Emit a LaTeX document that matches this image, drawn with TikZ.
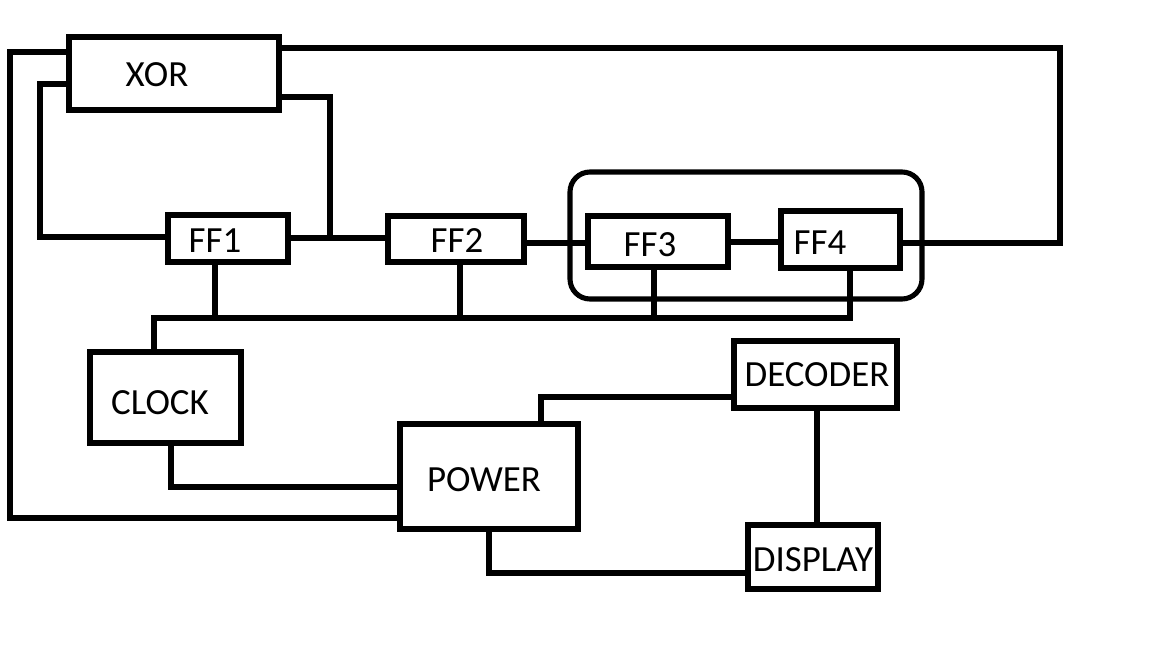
\documentclass[tikz,border=0pt]{standalone}
\usepackage{fontspec}
\setmainfont{Carlito}
\usetikzlibrary{fit}
\begin{document}
\begin{tikzpicture}[x=0.02cm,y=-0.02cm,
  lw/.style={line width=2.9pt, line join=miter},
  box/.style={draw, lw, rectangle, inner sep=0pt},
  group/.style={draw, lw, rectangle, rounded corners=0.4cm, inner sep=0pt},
  wire/.style={lw},
  lbl/.style={font=\fontsize{21}{25}\selectfont, inner sep=0pt, anchor=center}]
\useasboundingbox[fill=white] (0,0) rectangle (1152,648);
% boxes
\node[box, fit={(69,37) (279,110)}] (xor) {};
\node[box, fit={(168,215) (288,262)}] (ff1) {};
\node[box, fit={(388,216) (524,262)}] (ff2) {};
\node[group, fit={(570,172) (922,299)}] (grp) {};
\node[box, fit={(588,216) (728,267)}] (ff3) {};
\node[box, fit={(781,211) (900,268)}] (ff4) {};
\node[box, fit={(90,352) (241,443)}] (clock) {};
\node[box, fit={(400,424) (578,529)}] (power) {};
\node[box, fit={(734,341) (897,408)}] (decoder) {};
\node[box, fit={(748,525) (878,589)}] (display) {};
% labels
\node[lbl] (txor) at (157,75) {XOR};
\node[lbl] (tff1) at (215,241) {FF1};
\node[lbl] (tff2) at (457,241) {FF2};
\node[lbl] (tff3) at (650,245) {FF3};
\node[lbl] (tff4) at (820,243) {FF4};
\node[lbl] (tclock) at (160,403) {CLOCK};
\node[lbl] (tpower) at (484,480) {POWER};
\node[lbl] (tdecoder) at (817,375) {DECODER};
\node[lbl] (tdisplay) at (813,560) {DISPLAY};
% junction coordinates
\coordinate (j1) at (330,238);
% connectors
\draw[wire] (xor.west |- 0,52) -- (10,52) -- (10,518) -- (power.west |- 0,518);
\draw[wire] (xor.west |- 0,84) -- (40,84) -- (40,237) -- (ff1.west |- 0,237);
\draw[wire] (xor.east |- 0,48) -- (1060,48) -- (1060,243) -- (ff4.east |- 0,243);
\draw[wire] (xor.east |- 0,97) -- (330,97) -- (j1);
\draw[wire] (ff1.east |- 0,238) -- (ff2.west |- 0,238);
\draw[wire] (ff2.east |- 0,243) -- (ff3.west |- 0,243);
\draw[wire] (ff3.east |- 0,242) -- (ff4.west |- 0,242);
% clock bus
\draw[wire] (clock.north -| 154,0) -- (154,318) -- (850,318) -- (ff4.south -| 850,0);
\draw[wire] (ff1.south -| 215,0) -- (215,318);
\draw[wire] (ff2.south -| 460,0) -- (460,318);
\draw[wire] (ff3.south -| 654,0) -- (654,318);
% power distribution
\draw[wire] (clock.south -| 171,0) -- (171,487) -- (power.west |- 0,487);
\draw[wire] (power.north -| 541,0) -- (541,397) -- (decoder.west |- 0,397);
\draw[wire] (decoder.south -| 817,0) -- (display.north -| 817,0);
\draw[wire] (power.south -| 489,0) -- (489,573) -- (display.west |- 0,573);
\end{tikzpicture}
\end{document}
